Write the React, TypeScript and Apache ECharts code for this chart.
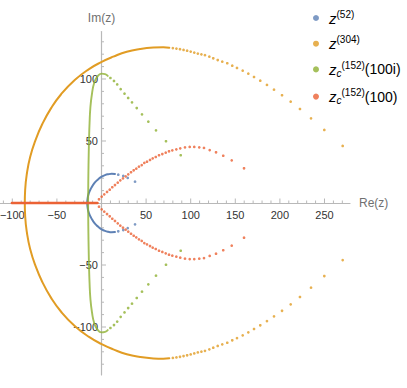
import React, { useEffect, useRef } from 'react';
import * as echarts from 'echarts';

// ---- data ----
const blueDense = [
  [15.1, -23.4], [11.4, -23.5], [7.6, -23.2], [3.9, -22.5], [0.2, -21.2], [-3.6, -19.2], [-7.6, -16.5], [-11.6, -12], [-14.2, -8], [-15.5, -4], [-16, 0],
  [-15.5, 4], [-14.2, 8], [-11.6, 12], [-7.6, 16.5], [-3.6, 19.2], [0.2, 21.2], [3.9, 22.5], [7.6, 23.2], [11.4, 23.5], [15.1, 23.4],
];
const blueSparse = [
  [18.8, 22.8], [24.4, 21.8], [29.4, 20.2], [37.6, 17.2],
  [18.8, -22.8], [24.4, -21.8], [29.4, -20.2], [37.6, -17.2],
];

const orangeDense = [
  [76, -125.2], [69.3, -125.5], [58.1, -125.3], [43.2, -124.2], [28.3, -122], [13.2, -118], [0.2, -113.8], [-14, -108], [-30, -99.2], [-45.5, -87.5], [-56.5, -76.5], [-66.5, -63.5], [-74.2, -50.3], [-80, -37], [-83.6, -24], [-85.6, -10.5], [-86, 0],
  [-85.6, 10.5], [-83.6, 24], [-80, 37], [-74.2, 50.3], [-66.5, 63.5], [-56.5, 76.5], [-45.5, 87.5], [-30, 99.2], [-14, 108], [0.2, 113.8], [13.2, 118], [28.3, 122], [43.2, 124.2], [58.1, 125.3], [69.3, 125.5], [76, 125.2],
];
const orangeSparse = [
  [80, 124.9], [84, 124.5], [88, 124], [92, 123.4], [96, 122.8], [100, 122.1], [104, 121.3], [108, 120.5], [112, 119.9], [116, 119.2],
  [120.9, 118], [125.3, 116.7], [130.3, 115.3], [135.4, 114], [141, 112.7], [146.6, 110.7], [151.9, 108.9], [158.3, 106.7], [164.6, 104.3],
  [171, 101.6], [178, 98.6], [185.5, 95.2], [193.4, 91.4], [202.4, 86.9], [212.1, 81.7], [222.5, 75.8], [234.9, 68.3], [249.8, 58.9], [270.4, 46],
  [80, -124.9], [84, -124.5], [88, -124], [92, -123.4], [96, -122.8], [100, -122.1], [104, -121.3], [108, -120.5], [112, -119.9], [116, -119.2],
  [120.9, -118], [125.3, -116.7], [130.3, -115.3], [135.4, -114], [141, -112.7], [146.6, -110.7], [151.9, -108.9], [158.3, -106.7], [164.6, -104.3],
  [171, -101.6], [178, -98.6], [185.5, -95.2], [193.4, -91.4], [202.4, -86.9], [212.1, -81.7], [222.5, -75.8], [234.9, -68.3], [249.8, -58.9], [270.4, -46],
];

const greenDense = [
  [7, -102.5], [4, -103.9], [0, -104.3], [-4.7, -101.9], [-8.3, -96.5], [-10.6, -88.5], [-12.4, -77.7], [-13.4, -64.3], [-14, -50.8], [-14.4, -37.3], [-14.7, -24], [-14.9, -10.5], [-15, 0],
  [-14.9, 10.5], [-14.7, 24], [-14.4, 37.3], [-14, 50.8], [-13.4, 64.3], [-12.4, 77.7], [-10.6, 88.5], [-8.3, 96.5], [-4.7, 101.9], [0, 104.3], [4, 103.9], [7, 102.5],
];
const greenSparse = [
  [10, 100.8], [14, 98.4], [17.6, 95.6], [21.5, 91.8], [25.8, 88.2], [29.9, 84.7], [34.2, 81.2], [39.5, 76.6], [45.4, 71.5], [52.5, 65.6], [61.1, 58.6], [72.3, 49.8], [88.8, 38.5],
  [10, -100.8], [14, -98.4], [17.6, -95.6], [21.5, -91.8], [25.8, -88.2], [29.9, -84.7], [34.2, -81.2], [39.5, -76.6], [45.4, -71.5], [52.5, -65.6], [61.1, -58.6], [72.3, -49.8], [88.8, -38.5],
];

const redAxis = [[-100.5, 0], [-4.5, 0]];
const redSparse = [
  [-2.8, 3], [0.2, 5.1], [3.1, 7], [6.2, 8.9], [9.2, 10.7], [12.1, 12.7], [15.1, 14.5], [18.2, 16.4], [21.1, 18.3], [24.1, 19.9],
  [27.1, 21.5], [30, 23.1], [33.1, 24.8], [36.1, 26.4], [39, 27.7], [42, 29.3], [45.1, 30.6], [48, 32.3], [51, 33.3], [54.4, 34.7],
  [57.4, 36], [60.8, 37.1], [64.5, 38.5], [68.2, 39.5], [72, 40.6], [75.7, 41.7], [79.4, 42.5], [83.9, 43.3], [88.3, 44.1], [93.6, 44.9],
  [98.9, 45.2], [104, 45.2], [109.6, 44.9], [114.9, 44.4], [121.3, 42.7], [128.4, 40.9], [136.5, 38.1], [146, 34.4], [159.8, 28],
  [-2.8, -3], [0.2, -5.1], [3.1, -7], [6.2, -8.9], [9.2, -10.7], [12.1, -12.7], [15.1, -14.5], [18.2, -16.4], [21.1, -18.3], [24.1, -19.9],
  [27.1, -21.5], [30, -23.1], [33.1, -24.8], [36.1, -26.4], [39, -27.7], [42, -29.3], [45.1, -30.6], [48, -32.3], [51, -33.3], [54.4, -34.7],
  [57.4, -36], [60.8, -37.1], [64.5, -38.5], [68.2, -39.5], [72, -40.6], [75.7, -41.7], [79.4, -42.5], [83.9, -43.3], [88.3, -44.1], [93.6, -44.9],
  [98.9, -45.2], [104, -45.2], [109.6, -44.9], [114.9, -44.4], [121.3, -42.7], [128.4, -40.9], [136.5, -38.1], [146, -34.4], [159.8, -28],
];

const xMajorTicks = [-100, -50, 50, 100, 150, 200, 250];
const xMinorTicks = [-110, -90, -80, -70, -60, -40, -30, -20, -10, 10, 20, 30, 40, 60, 70, 80, 90, 110, 120, 130, 140, 160, 170, 180, 190, 210, 220, 230, 240, 260, 270];
const yMajorTicks = [-100, -50, 50, 100];
const yMinorTicks = [-130, -120, -110, -90, -80, -70, -60, -40, -30, -20, -10, 10, 20, 30, 40, 60, 70, 80, 90, 110, 120, 130];

const seriesNames = ['z52', 'z304', 'zc100i', 'zc100'];
const legendLabels: Record<string, string> = {
  z52: '{sp| }{z|z}{sup|(52)}',
  z304: '{sp| }{z|z}{sup|(304)}',
  zc100i: '{sp| }{z|z}{sub|c}{sup|(152)}{n|(100i)}',
  zc100: '{sp| }{z|z}{sub|c}{sup|(152)}{n|(100)}',
};
const colors = ['#5E81B5', '#E19C24', '#8FB032', '#EB6235'];

const FONT = "'Liberation Sans', Arial, sans-serif";
const AXIS_GRAY = '#b8b8b8';

function fmt(v: number) {
  return v < 0 ? '\u2212' + Math.abs(v) : String(v);
}

function tickSeries(axis: 'x' | 'y') {
  const majors = axis === 'x' ? xMajorTicks : yMajorTicks;
  const minors = axis === 'x' ? xMinorTicks : yMinorTicks;
  const data = [...majors.map((v) => [v, 1]), ...minors.map((v) => [v, 0])];
  return {
    type: 'custom',
    name: 'ticks-' + axis,
    silent: true,
    z: 1,
    data,
    encode: { x: axis === 'x' ? 0 : 1, y: axis === 'x' ? 1 : 0 },
    renderItem: (params: any, api: any) => {
      const v = api.value(0);
      const major = api.value(1) === 1;
      const p = axis === 'x' ? api.coord([v, 0]) : api.coord([0, v]);
      const len = major ? 4.5 : 2.5;
      const children: any[] = [];
      if (axis === 'x') {
        children.push({ type: 'line', shape: { x1: p[0], y1: p[1], x2: p[0], y2: p[1] - len }, style: { stroke: AXIS_GRAY, lineWidth: 1 } });
        if (major) {
          children.push({ type: 'text', style: { text: fmt(v), x: p[0], y: p[1] + 11.5, align: 'center', verticalAlign: 'middle', font: `11px ${FONT}`, fill: '#333' } });
        }
      } else {
        children.push({ type: 'line', shape: { x1: p[0], y1: p[1], x2: p[0] + len, y2: p[1] }, style: { stroke: AXIS_GRAY, lineWidth: 1 } });
        if (major) {
          children.push({ type: 'text', style: { text: fmt(v), x: p[0] - 3.5, y: p[1], align: 'right', verticalAlign: 'middle', font: `11px ${FONT}`, fill: '#333' } });
        }
      }
      return { type: 'group', children };
    },
  };
}

function denseLine(name: string, data: number[][], color: string, width: number, opacity = 1) {
  return {
    type: 'line',
    name,
    data,
    smooth: 0.5,
    showSymbol: false,
    silent: true,
    lineStyle: { color, width, opacity, cap: 'round' },
    itemStyle: { color },
    z: 2,
  };
}

function dots(name: string, data: number[][], color: string) {
  return {
    type: 'scatter',
    name,
    data,
    symbolSize: 2.7,
    itemStyle: { color },
    silent: true,
    z: 3,
  };
}

export default function App() {
  const ref = useRef<HTMLDivElement>(null);
  useEffect(() => {
    const chart = echarts.init(ref.current!, null, { renderer: 'svg' });
    const option: any = {
      animation: false,
      backgroundColor: '#ffffff',
      grid: { left: 0, right: 57, top: 31.5, bottom: 13, containLabel: false, outerBoundsMode: 'none' },
      xAxis: {
        type: 'value',
        min: -113.8,
        max: 278.6,
        axisLine: { show: true, onZero: true, lineStyle: { color: AXIS_GRAY, width: 1.2 } },
        axisTick: { show: false },
        axisLabel: { show: false },
        splitLine: { show: false },
        name: 'Re(z)',
        nameLocation: 'end',
        nameGap: 9,
        nameTextStyle: { color: '#707070', fontSize: 12, fontFamily: FONT },
      },
      yAxis: {
        type: 'value',
        min: -138.7,
        max: 138.3,
        axisLine: { show: true, onZero: true, lineStyle: { color: AXIS_GRAY, width: 1.2 } },
        axisTick: { show: false },
        axisLabel: { show: false },
        splitLine: { show: false },
        name: 'Im(z)',
        nameLocation: 'end',
        nameGap: 8,
        nameTextStyle: { color: '#707070', fontSize: 12, fontFamily: FONT },
      },
      legend: {
        data: seriesNames.map((n) => ({ name: n, icon: 'circle' })),
        orient: 'vertical',
        left: 313,
        top: 9,
        padding: 0,
        itemWidth: 6,
        itemHeight: 6,
        itemGap: 9.2,
        selectedMode: false,
        formatter: (name: string) => legendLabels[name],
        textStyle: {
          color: '#000',
          fontFamily: FONT,
          rich: {
            sp: { width: 5, fontSize: 10 },
            z: { fontSize: 15, fontStyle: 'italic', fontFamily: FONT, color: '#000', lineHeight: 18, verticalAlign: 'middle' },
            sup: { fontSize: 10, fontFamily: FONT, color: '#000', lineHeight: 10, verticalAlign: 'top' },
            sub: { fontSize: 10, fontStyle: 'italic', fontFamily: FONT, color: '#000', lineHeight: 12, verticalAlign: 'bottom' },
            n: { fontSize: 14, fontFamily: FONT, color: '#000', lineHeight: 18, verticalAlign: 'middle' },
          },
        },
      },
      series: [
        tickSeries('x'),
        tickSeries('y'),
        denseLine('z52-dense', blueDense, colors[0], 2),
        dots('z52', blueSparse, colors[0]),
        denseLine('z304-dense', orangeDense, colors[1], 2),
        dots('z304', orangeSparse, colors[1]),
        denseLine('zc100i-dense', greenDense, colors[2], 1.9, 0.8),
        dots('zc100i', greenSparse, colors[2]),
        denseLine('zc100-dense', redAxis, colors[3], 2.5),
        dots('zc100', redSparse, colors[3]),
      ],
    };
    chart.setOption(option);
    return () => chart.dispose();
  }, []);
  return <div ref={ref} style={{ position: 'fixed', left: 0, top: 0, width: 407, height: 388 }} />;
}
